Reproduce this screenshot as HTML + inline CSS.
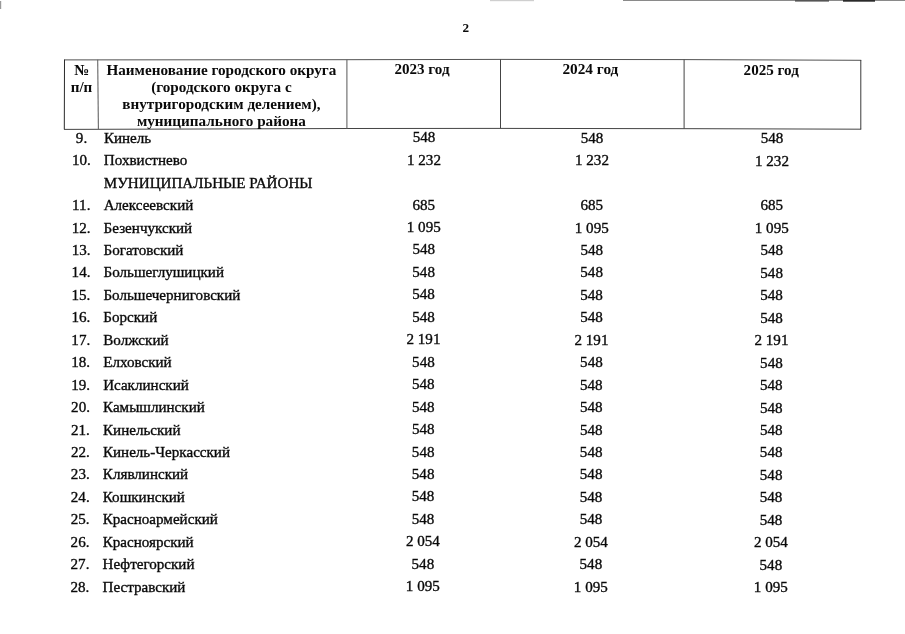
<!DOCTYPE html>
<html lang="ru"><head><meta charset="utf-8"><title>2</title>
<style>
html,body{margin:0;padding:0;background:#fff;}
body{width:905px;height:634px;position:relative;overflow:hidden;font-family:"Liberation Serif",serif;font-size:15.1px;color:#0a0a0a;-webkit-text-stroke:0.35px #0a0a0a;}
.t{position:absolute;white-space:nowrap;line-height:22px;height:22px;}
.n{left:61.5px;width:40px;text-align:center;}
.m{left:102.8px;}
.c{width:120px;text-align:center;}
.c1{left:364px}.c2{left:532px}.c3{left:712px}
.h{-webkit-text-stroke:0;font-weight:bold;text-align:center;line-height:16.9px;position:absolute;white-space:nowrap;}
.ln{position:absolute;background:#222;}
</style></head><body>

<div class="t" style="left:445.7px;width:40px;text-align:center;font-weight:bold;-webkit-text-stroke:0;font-size:13.2px;top:17.15px">2</div>
<svg style="position:absolute;left:0;top:0" width="905" height="634" viewBox="0 0 905 634" fill="none">
<rect x="490" y="0" width="44" height="1.2" fill="#cfcfcf"/>
<rect x="623" y="0" width="282" height="1" fill="#8a8a8a"/>
<rect x="795" y="0" width="34" height="1.6" fill="#555"/>
<rect x="843" y="0" width="32" height="1.7" fill="#2a2a2a"/>
<rect x="0" y="1" width="1.2" height="8" fill="#999"/>
<polyline points="64.1,59.9 346,59.7 500,59.4 684,59.6 861.2,60.3" stroke="#333" stroke-width="0.85"/>
<polyline points="64.1,129.4 200,129.0 346,128.5 500,128.4 700,128.7 861.2,129.2" stroke="#222" stroke-width="0.85"/>
<line x1="64.5" y1="59.6" x2="64.3" y2="129.4" stroke="#2a2a2a" stroke-width="1"/>
<line x1="97.7" y1="59.8" x2="98.4" y2="129.2" stroke="#666" stroke-width="1.1"/>
<line x1="346.9" y1="59.7" x2="346.9" y2="128.4" stroke="#666" stroke-width="1.1"/>
<line x1="500.5" y1="59.4" x2="500.5" y2="128.2" stroke="#444" stroke-width="1"/>
<line x1="684.1" y1="59.6" x2="684.1" y2="128.6" stroke="#444" stroke-width="1"/>
<line x1="860.8" y1="60" x2="860.8" y2="129.3" stroke="#3a3a3a" stroke-width="1"/>
</svg>
<div class="h" style="left:61.5px;width:40px;top:62.45px">№<br>п/п</div>
<div class="h" style="left:101.4px;width:240px;font-size:15.2px;top:62.45px">Наименование городского округа<br>(городского округа с<br>внутригородским делением),<br>муниципального района</div>
<div class="h" style="left:362px;width:120px;top:61.45px">2023 год</div>
<div class="h" style="left:530.4px;width:120px;font-size:15.3px;top:61.45px">2024 год</div>
<div class="h" style="left:711.2px;width:120px;top:62.45px">2025 год</div>
<div class="t n" style="top:126.70px;left:61.50px">9.</div>
<div class="t m" style="top:126.70px;left:103.90px">Кинель</div>
<div class="t c c1" style="top:126.20px;margin-left:0.00px">548</div>
<div class="t c c2" style="top:126.70px;margin-left:0.00px">548</div>
<div class="t c c3" style="top:127.10px;margin-left:0.00px">548</div>
<div class="t n" style="top:149.15px;left:61.42px">10.</div>
<div class="t m" style="top:149.15px;left:103.83px">Похвистнево</div>
<div class="t c c1" style="top:148.65px;margin-left:-0.06px">1 232</div>
<div class="t c c2" style="top:149.15px;margin-left:-0.06px">1 232</div>
<div class="t c c3" style="top:149.55px;margin-left:-0.06px">1 232</div>
<div class="t m" style="top:171.60px;left:103.76px">МУНИЦИПАЛЬНЫЕ РАЙОНЫ</div>
<div class="t n" style="top:194.05px;left:61.26px">11.</div>
<div class="t m" style="top:194.05px;left:103.69px">Алексеевский</div>
<div class="t c c1" style="top:193.55px;margin-left:-0.18px">685</div>
<div class="t c c2" style="top:194.05px;margin-left:-0.18px">685</div>
<div class="t c c3" style="top:194.45px;margin-left:-0.18px">685</div>
<div class="t n" style="top:216.50px;left:61.18px">12.</div>
<div class="t m" style="top:216.50px;left:103.62px">Безенчукский</div>
<div class="t c c1" style="top:216.00px;margin-left:-0.24px">1 095</div>
<div class="t c c2" style="top:216.50px;margin-left:-0.24px">1 095</div>
<div class="t c c3" style="top:216.90px;margin-left:-0.24px">1 095</div>
<div class="t n" style="top:238.95px;left:61.10px">13.</div>
<div class="t m" style="top:238.95px;left:103.55px">Богатовский</div>
<div class="t c c1" style="top:238.45px;margin-left:-0.30px">548</div>
<div class="t c c2" style="top:238.95px;margin-left:-0.30px">548</div>
<div class="t c c3" style="top:239.35px;margin-left:-0.30px">548</div>
<div class="t n" style="top:261.40px;left:61.02px">14.</div>
<div class="t m" style="top:261.40px;left:103.48px">Большеглушицкий</div>
<div class="t c c1" style="top:260.90px;margin-left:-0.36px">548</div>
<div class="t c c2" style="top:261.40px;margin-left:-0.36px">548</div>
<div class="t c c3" style="top:261.80px;margin-left:-0.36px">548</div>
<div class="t n" style="top:283.85px;left:60.94px">15.</div>
<div class="t m" style="top:283.85px;left:103.41px">Большечерниговский</div>
<div class="t c c1" style="top:283.35px;margin-left:-0.42px">548</div>
<div class="t c c2" style="top:283.85px;margin-left:-0.42px">548</div>
<div class="t c c3" style="top:284.25px;margin-left:-0.42px">548</div>
<div class="t n" style="top:306.30px;left:60.86px">16.</div>
<div class="t m" style="top:306.30px;left:103.34px">Борский</div>
<div class="t c c1" style="top:305.80px;margin-left:-0.48px">548</div>
<div class="t c c2" style="top:306.30px;margin-left:-0.48px">548</div>
<div class="t c c3" style="top:306.70px;margin-left:-0.48px">548</div>
<div class="t n" style="top:328.75px;left:60.78px">17.</div>
<div class="t m" style="top:328.75px;left:103.27px">Волжский</div>
<div class="t c c1" style="top:328.25px;margin-left:-0.54px">2 191</div>
<div class="t c c2" style="top:328.75px;margin-left:-0.54px">2 191</div>
<div class="t c c3" style="top:329.15px;margin-left:-0.54px">2 191</div>
<div class="t n" style="top:351.20px;left:60.70px">18.</div>
<div class="t m" style="top:351.20px;left:103.20px">Елховский</div>
<div class="t c c1" style="top:350.70px;margin-left:-0.60px">548</div>
<div class="t c c2" style="top:351.20px;margin-left:-0.60px">548</div>
<div class="t c c3" style="top:351.60px;margin-left:-0.60px">548</div>
<div class="t n" style="top:373.65px;left:60.62px">19.</div>
<div class="t m" style="top:373.65px;left:103.13px">Исаклинский</div>
<div class="t c c1" style="top:373.15px;margin-left:-0.66px">548</div>
<div class="t c c2" style="top:373.65px;margin-left:-0.66px">548</div>
<div class="t c c3" style="top:374.05px;margin-left:-0.66px">548</div>
<div class="t n" style="top:396.10px;left:60.54px">20.</div>
<div class="t m" style="top:396.10px;left:103.06px">Камышлинский</div>
<div class="t c c1" style="top:395.60px;margin-left:-0.72px">548</div>
<div class="t c c2" style="top:396.10px;margin-left:-0.72px">548</div>
<div class="t c c3" style="top:396.50px;margin-left:-0.72px">548</div>
<div class="t n" style="top:418.55px;left:60.46px">21.</div>
<div class="t m" style="top:418.55px;left:102.99px">Кинельский</div>
<div class="t c c1" style="top:418.05px;margin-left:-0.78px">548</div>
<div class="t c c2" style="top:418.55px;margin-left:-0.78px">548</div>
<div class="t c c3" style="top:418.95px;margin-left:-0.78px">548</div>
<div class="t n" style="top:441.00px;left:60.38px">22.</div>
<div class="t m" style="top:441.00px;left:102.92px">Кинель-Черкасский</div>
<div class="t c c1" style="top:440.50px;margin-left:-0.84px">548</div>
<div class="t c c2" style="top:441.00px;margin-left:-0.84px">548</div>
<div class="t c c3" style="top:441.40px;margin-left:-0.84px">548</div>
<div class="t n" style="top:463.45px;left:60.30px">23.</div>
<div class="t m" style="top:463.45px;left:102.85px">Клявлинский</div>
<div class="t c c1" style="top:462.95px;margin-left:-0.90px">548</div>
<div class="t c c2" style="top:463.45px;margin-left:-0.90px">548</div>
<div class="t c c3" style="top:463.85px;margin-left:-0.90px">548</div>
<div class="t n" style="top:485.90px;left:60.22px">24.</div>
<div class="t m" style="top:485.90px;left:102.78px">Кошкинский</div>
<div class="t c c1" style="top:485.40px;margin-left:-0.96px">548</div>
<div class="t c c2" style="top:485.90px;margin-left:-0.96px">548</div>
<div class="t c c3" style="top:486.30px;margin-left:-0.96px">548</div>
<div class="t n" style="top:508.35px;left:60.14px">25.</div>
<div class="t m" style="top:508.35px;left:102.71px">Красноармейский</div>
<div class="t c c1" style="top:507.85px;margin-left:-1.02px">548</div>
<div class="t c c2" style="top:508.35px;margin-left:-1.02px">548</div>
<div class="t c c3" style="top:508.75px;margin-left:-1.02px">548</div>
<div class="t n" style="top:530.80px;left:60.06px">26.</div>
<div class="t m" style="top:530.80px;left:102.64px">Красноярский</div>
<div class="t c c1" style="top:530.30px;margin-left:-1.08px">2 054</div>
<div class="t c c2" style="top:530.80px;margin-left:-1.08px">2 054</div>
<div class="t c c3" style="top:531.20px;margin-left:-1.08px">2 054</div>
<div class="t n" style="top:553.25px;left:59.98px">27.</div>
<div class="t m" style="top:553.25px;left:102.57px">Нефтегорский</div>
<div class="t c c1" style="top:552.75px;margin-left:-1.14px">548</div>
<div class="t c c2" style="top:553.25px;margin-left:-1.14px">548</div>
<div class="t c c3" style="top:553.65px;margin-left:-1.14px">548</div>
<div class="t n" style="top:575.70px;left:59.90px">28.</div>
<div class="t m" style="top:575.70px;left:102.50px">Пестравский</div>
<div class="t c c1" style="top:575.20px;margin-left:-1.20px">1 095</div>
<div class="t c c2" style="top:575.70px;margin-left:-1.20px">1 095</div>
<div class="t c c3" style="top:576.10px;margin-left:-1.20px">1 095</div>
</body></html>
